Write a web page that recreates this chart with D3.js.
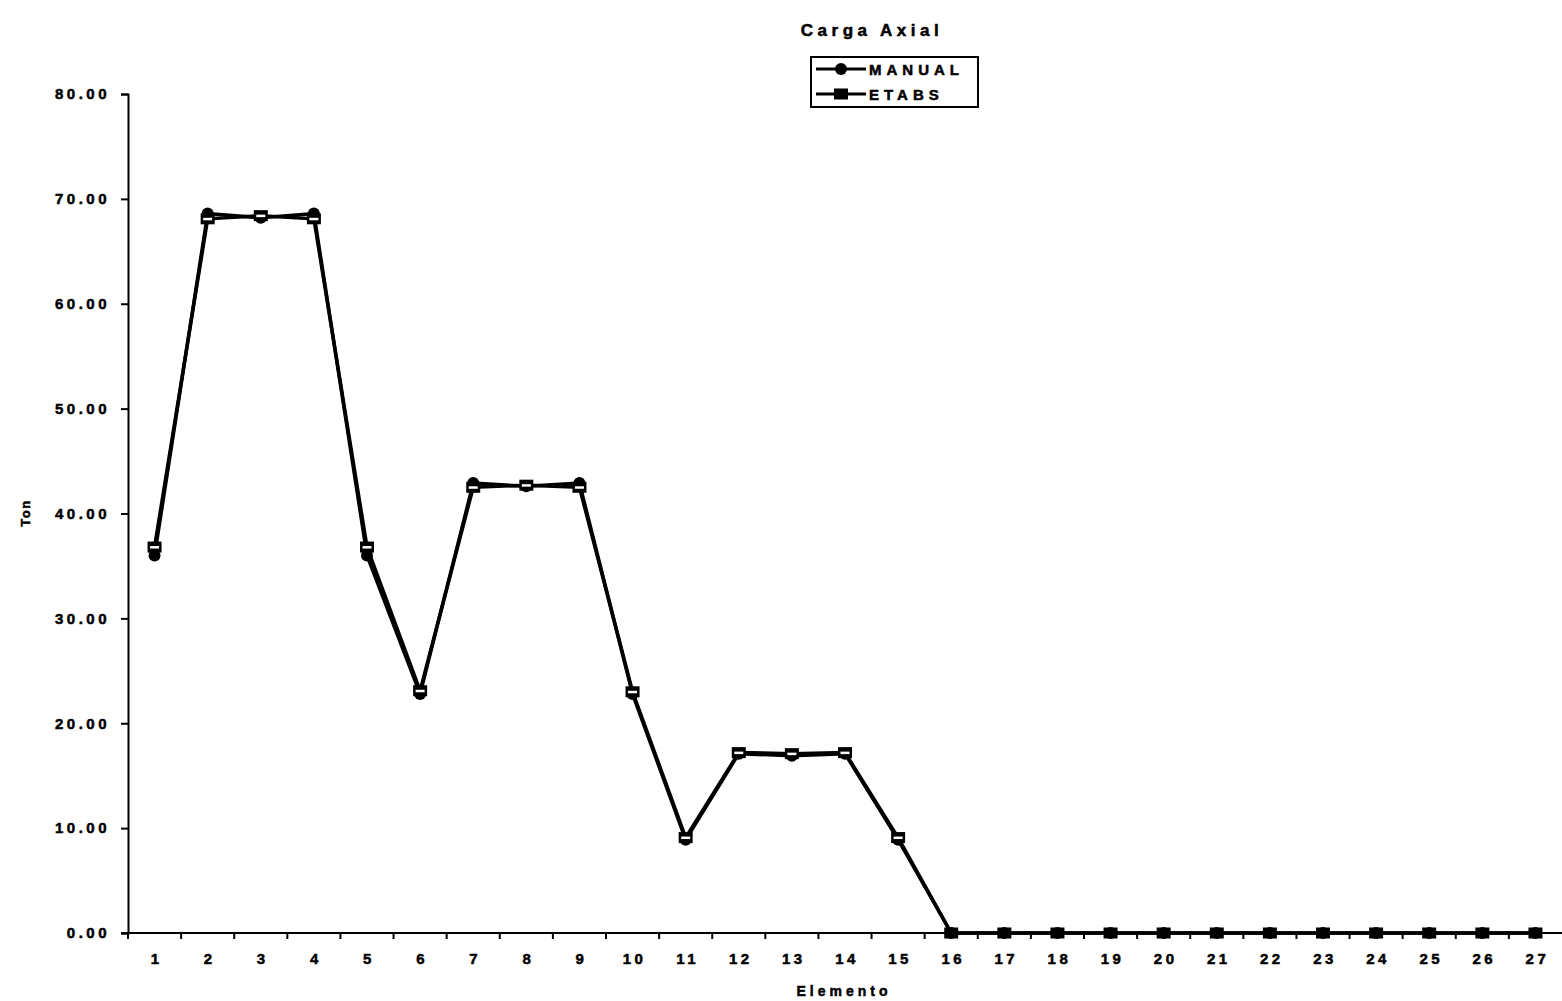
<!DOCTYPE html>
<html>
<head>
<meta charset="utf-8">
<script src="https://cdn.jsdelivr.net/npm/d3@7"></script>
<style>
  html, body { margin: 0; padding: 0; background: #fff; }
  text { font-family: "Liberation Sans", Arial, sans-serif; font-weight: bold; fill: #000;
         stroke: #000; stroke-width: 0.5px; }
</style>
</head>
<body>
<svg id="chart" width="1562" height="1001"></svg>
<script>
// Elements along the frame
const elementos = d3.range(1, 28).map(String);
// Axial load per element (Ton)
const manual = [36.0, 68.6, 68.2, 68.6, 36.0, 22.8, 42.9, 42.6, 42.9, 22.8, 8.9, 17.1, 16.9, 17.1, 8.9,
                0, 0, 0, 0, 0, 0, 0, 0, 0, 0, 0, 0];
const etabs  = [36.8, 68.1, 68.4, 68.1, 36.8, 23.1, 42.5, 42.7, 42.5, 23.0, 9.1, 17.2, 17.1, 17.2, 9.1,
                0, 0, 0, 0, 0, 0, 0, 0, 0, 0, 0, 0];
const yTicks = [0, 10, 20, 30, 40, 50, 60, 70, 80];

const svg = d3.select("#chart");
const plotLeft = 128, plotRight = 1562, plotTop = 94, plotBottom = 933;

const x = d3.scaleBand().domain(elementos).range([plotLeft, plotRight]);
const y = d3.scaleLinear().domain([0, 80]).range([plotBottom, plotTop]);

// Title
svg.append("text").attr("x", 872).attr("y", 36).attr("text-anchor", "middle")
  .style("font-size", "17px").style("letter-spacing", "4.5px").text("Carga Axial");

// Y axis
const yAxis = svg.append("g").attr("transform", `translate(${plotLeft},0)`)
  .call(d3.axisLeft(y).tickValues(yTicks).tickFormat(d3.format(".2f")).tickSize(7).tickPadding(11));
yAxis.select(".domain").attr("stroke", "#000").attr("stroke-width", 2);
yAxis.selectAll(".tick line").attr("stroke", "#000").attr("stroke-width", 2);
yAxis.selectAll(".tick text").style("font-size", "15px").style("letter-spacing", "3.5px")
  .style("font-family", "'Liberation Sans', Arial, sans-serif").style("font-weight", "bold")
  .attr("stroke", "#000").attr("stroke-width", 0.5);

// X axis: ticks sit between categories
const xAxisG = svg.append("g").attr("transform", `translate(0,${plotBottom})`);
xAxisG.append("line").attr("x1", plotLeft - 7).attr("x2", plotRight).attr("y1", 0).attr("y2", 0)
  .attr("stroke", "#000").attr("stroke-width", 2);
xAxisG.selectAll("line.tk").data(elementos).enter().append("line").attr("class", "tk")
  .attr("x1", d => x(d)).attr("x2", d => x(d)).attr("y1", 0).attr("y2", 6)
  .attr("stroke", "#000").attr("stroke-width", 2);
xAxisG.selectAll("text").data(elementos).enter().append("text")
  .attr("x", d => x(d) + x.bandwidth() / 2 + 2).attr("y", 31).attr("text-anchor", "middle")
  .style("font-size", "15px").style("letter-spacing", "3.5px").text(d => d);

// Axis titles
svg.append("text").attr("x", 844).attr("y", 996).attr("text-anchor", "middle")
  .style("font-size", "14px").style("letter-spacing", "4px").text("Elemento");
svg.append("text").attr("transform", "translate(30,513) rotate(-90)").attr("text-anchor", "middle")
  .style("font-size", "13px").style("letter-spacing", "1.5px").text("Ton");

const cx = (d, i) => x(elementos[i]) + x.bandwidth() / 2;
const line = d3.line().x((d, i) => cx(d, i)).y(d => y(d));

// Series lines
svg.append("path").datum(etabs).attr("d", line).attr("fill", "none")
  .attr("stroke", "#000").attr("stroke-width", 3.5);
svg.append("path").datum(manual).attr("d", line).attr("fill", "none")
  .attr("stroke", "#000").attr("stroke-width", 3.5);

// MANUAL markers (round)
svg.selectAll("circle.man").data(manual).enter().append("circle").attr("class", "man")
  .attr("cx", cx).attr("cy", d => y(d)).attr("r", 6).attr("fill", "#000");
// ETABS markers (square)
svg.selectAll("rect.eta").data(etabs).enter().append("rect").attr("class", "eta")
  .attr("x", (d, i) => cx(d, i) - 7).attr("y", d => y(d) - 5.5).attr("width", 14).attr("height", 11)
  .attr("fill", "#000");
// small white glints inside markers on the loaded elements
svg.selectAll("rect.glint").data(etabs.filter(v => v > 0)).enter().append("rect").attr("class", "glint")
  .attr("x", (d, i) => cx(d, i) - 4.5).attr("y", d => y(d) - 1).attr("width", 9).attr("height", 2.5)
  .attr("fill", "#fff");

// Legend
const lg = svg.append("g").attr("transform", "translate(811,57)");
lg.append("rect").attr("width", 167).attr("height", 50).attr("fill", "#fff")
  .attr("stroke", "#000").attr("stroke-width", 2);
[["MANUAL", "circle"], ["ETABS", "square"]].forEach(([name, shape], k) => {
  const yy = 12 + k * 25;
  lg.append("line").attr("x1", 5).attr("x2", 55).attr("y1", yy).attr("y2", yy)
    .attr("stroke", "#000").attr("stroke-width", 3);
  if (shape === "circle") {
    lg.append("circle").attr("cx", 30).attr("cy", yy).attr("r", 6).attr("fill", "#000");
  } else {
    lg.append("rect").attr("x", 23).attr("y", yy - 5.5).attr("width", 14).attr("height", 11).attr("fill", "#000");
  }
  lg.append("text").attr("x", 58).attr("y", yy + 5.5).style("font-size", "15px")
    .style("letter-spacing", "5px").text(name);
});
</script>
</body>
</html>
